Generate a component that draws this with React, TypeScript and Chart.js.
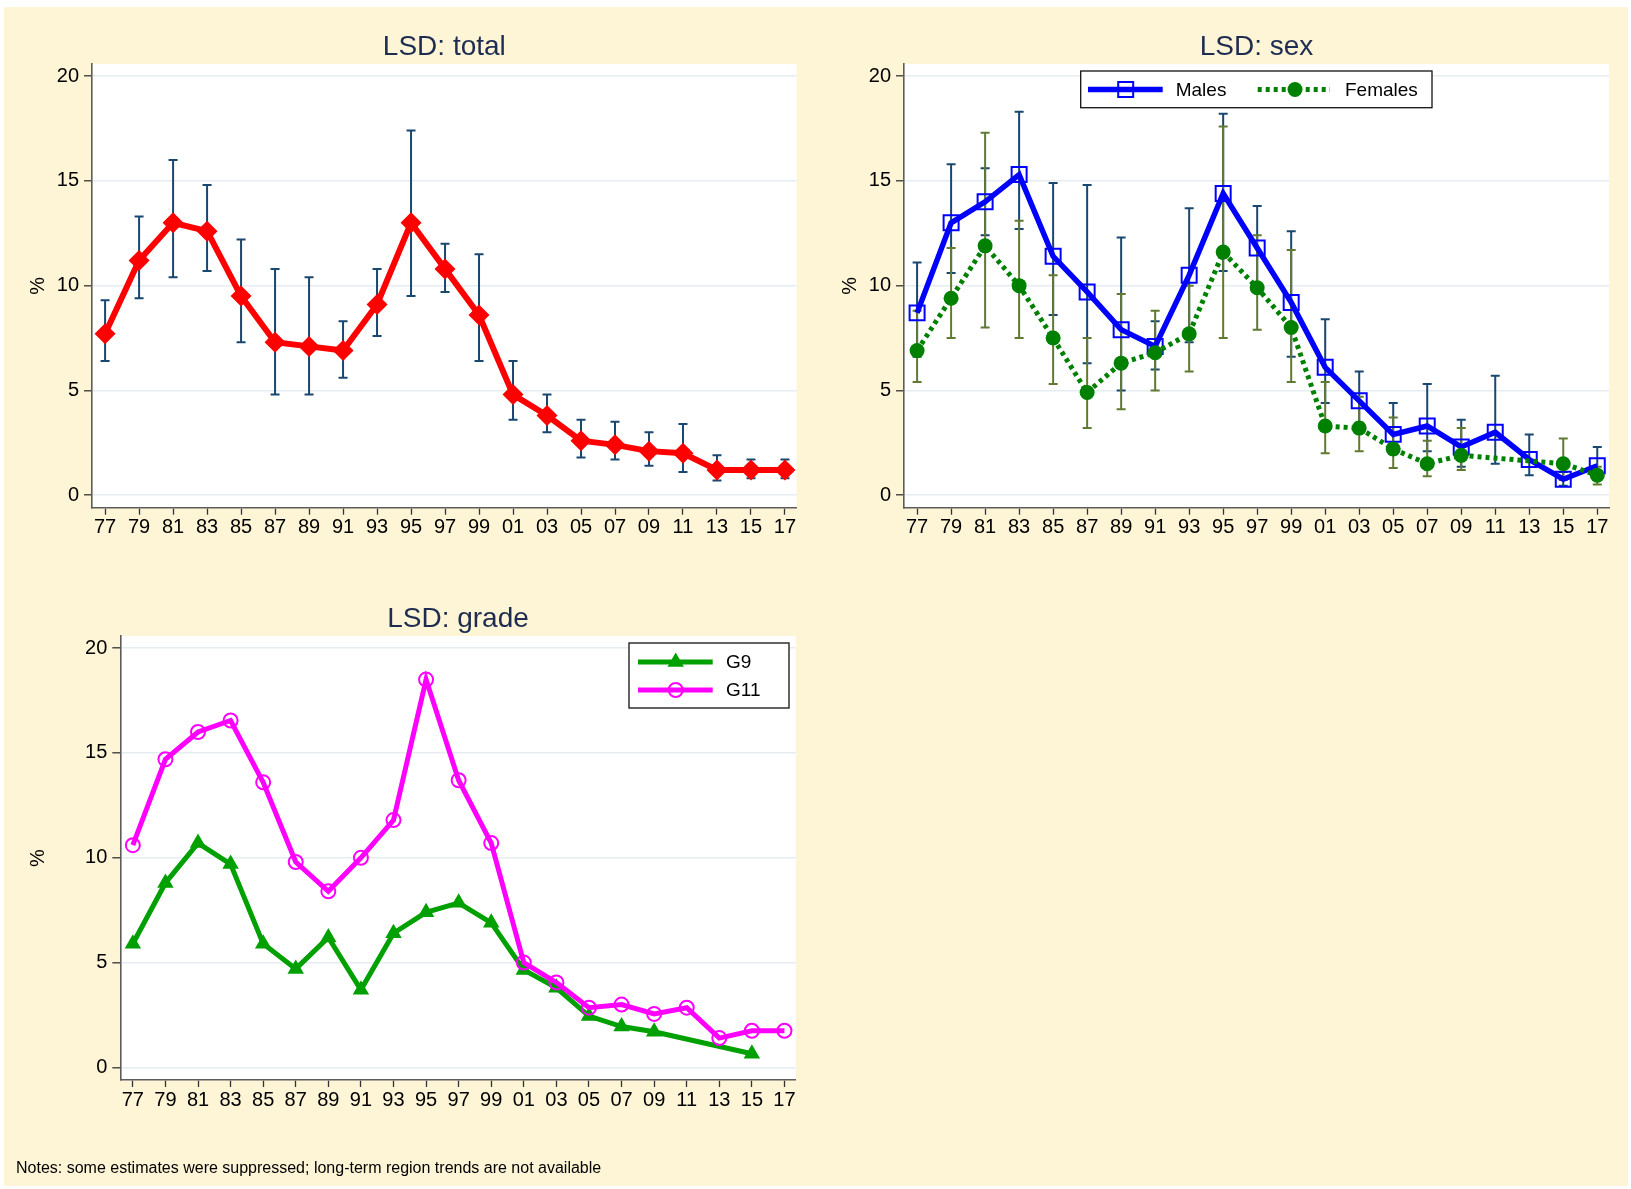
import React, { useEffect, useRef } from 'react';
import { Chart, registerables } from 'chart.js';
import { drawPoint } from 'chart.js/helpers';

Chart.register(...registerables);

// ---------------- data ----------------
const years = [1977, 1979, 1981, 1983, 1985, 1987, 1989, 1991, 1993, 1995, 1997, 1999, 2001, 2003, 2005, 2007, 2009, 2011, 2013, 2015, 2017];
const yTicks = [0, 5, 10, 15, 20];

const totalValues = [7.7, 11.2, 13.0, 12.6, 9.5, 7.3, 7.1, 6.9, 9.1, 13.0, 10.8, 8.6, 4.8, 3.8, 2.6, 2.4, 2.1, 2.0, 1.2, 1.2, 1.2];
const totalLower = [6.4, 9.4, 10.4, 10.7, 7.3, 4.8, 4.8, 5.6, 7.6, 9.5, 9.7, 6.4, 3.6, 3.0, 1.8, 1.7, 1.4, 1.1, 0.7, 0.8, 0.8];
const totalUpper = [9.3, 13.3, 16.0, 14.8, 12.2, 10.8, 10.4, 8.3, 10.8, 17.4, 12.0, 11.5, 6.4, 4.8, 3.6, 3.5, 3.0, 3.4, 1.9, 1.7, 1.7];

const maleValues = [8.7, 13.0, 14.0, 15.3, 11.4, 9.7, 7.9, 7.1, 10.5, 14.4, 11.8, 9.2, 6.1, 4.5, 2.9, 3.3, 2.3, 3.0, 1.7, 0.76, 1.4];
const maleLower = [6.6, 10.6, 12.4, 12.7, 8.6, 6.3, 5.0, 6.0, 7.3, 10.7, 9.8, 6.6, 4.4, 3.45, 1.95, 2.1, 1.35, 1.5, 0.95, 0.45, 0.75];
const maleUpper = [11.1, 15.8, 15.6, 18.3, 14.9, 14.8, 12.3, 8.3, 13.7, 18.2, 13.8, 12.6, 8.4, 5.9, 4.4, 5.3, 3.6, 5.7, 2.9, 1.1, 2.3];

const femaleValues = [6.9, 9.4, 11.9, 10.0, 7.5, 4.9, 6.3, 6.8, 7.7, 11.6, 9.9, 8.0, 3.3, 3.2, 2.2, 1.5, 1.9, null, null, 1.5, 0.95];
const femaleLower = [5.4, 7.5, 8.0, 7.5, 5.3, 3.2, 4.1, 5.0, 5.9, 7.5, 7.9, 5.4, 2.0, 2.1, 1.3, 0.9, 1.2, null, null, 0.72, 0.51];
const femaleUpper = [8.8, 11.8, 17.3, 13.1, 10.5, 7.5, 9.6, 8.8, 10.0, 17.6, 12.4, 11.7, 5.4, 4.7, 3.7, 2.6, 3.2, null, null, 2.7, 1.35];

const g9Values = [5.9, 8.8, 10.7, 9.7, 5.9, 4.7, 6.2, 3.7, 6.4, 7.4, 7.85, 6.9, 4.65, 3.8, 2.45, 1.95, 1.7, null, null, 0.65, null];
const g11Values = [10.6, 14.7, 16.0, 16.55, 13.6, 9.8, 8.4, 10.0, 11.8, 18.5, 13.7, 10.7, 5.0, 4.05, 2.85, 3.0, 2.55, 2.85, 1.4, 1.75, 1.75];

const titleTotal = 'LSD: total';
const titleSex = 'LSD: sex';
const titleGrade = 'LSD: grade';
const yAxisTitle = '%';
const noteText = 'Notes: some estimates were suppressed; long-term region trends are not available';

// ---------------- styles ----------------
const FONT = '"Liberation Sans", Arial, Helvetica, sans-serif';
const BG = '#fef5d6';
const GRID = '#e5edf1';
const AXIS = '#5c5c5c';
const TITLE_COLOR = '#1d2c50';
const TICK_SIZE = 20;

const toPoints = (vals: (number | null)[]) => years.map((x, i) => ({ x, y: vals[i] }));

// plot region background
const plotBgPlugin = {
  id: 'plotBg',
  beforeDraw(chart: any) {
    const { ctx, chartArea } = chart;
    ctx.save();
    ctx.fillStyle = '#ffffff';
    ctx.fillRect(chartArea.left, chartArea.top, chartArea.right - chartArea.left, chartArea.bottom - chartArea.top);
    ctx.restore();
  },
};

// panel title centered over plot region
const panelTitlePlugin = {
  id: 'panelTitle',
  afterDraw(chart: any, _args: any, opts: any) {
    if (!opts || !opts.text) return;
    const { ctx, chartArea } = chart;
    ctx.save();
    ctx.font = `${opts.size}px ${FONT}`;
    ctx.fillStyle = opts.color;
    ctx.textAlign = 'center';
    ctx.textBaseline = 'middle';
    ctx.fillText(opts.text, (chartArea.left + chartArea.right) / 2, opts.y);
    ctx.restore();
  },
};

// confidence interval caps
const errorBarsPlugin = {
  id: 'errorBars',
  beforeDatasetsDraw(chart: any, _args: any, opts: any) {
    if (!opts || !opts.bars) return;
    const { ctx } = chart;
    const xs = chart.scales.x;
    const ys = chart.scales.y;
    ctx.save();
    for (const b of opts.bars) {
      ctx.strokeStyle = b.color;
      ctx.lineWidth = b.width;
      ctx.lineCap = 'butt';
      for (let i = 0; i < years.length; i++) {
        const lo = b.lower[i];
        const hi = b.upper[i];
        if (lo == null || hi == null) continue;
        const x = xs.getPixelForValue(years[i]);
        const y1 = ys.getPixelForValue(lo);
        const y2 = ys.getPixelForValue(hi);
        ctx.beginPath();
        ctx.moveTo(x, y1);
        ctx.lineTo(x, y2);
        ctx.moveTo(x - b.cap, y1);
        ctx.lineTo(x + b.cap, y1);
        ctx.moveTo(x - b.cap, y2);
        ctx.lineTo(x + b.cap, y2);
        ctx.stroke();
      }
    }
    ctx.restore();
  },
};

// legend with line + marker samples
const lineLegendPlugin = {
  id: 'lineLegend',
  afterDatasetsDraw(chart: any, _args: any, opts: any) {
    if (!opts || !opts.box) return;
    const { ctx } = chart;
    const [x1, y1, x2, y2] = opts.box;
    ctx.save();
    ctx.fillStyle = '#ffffff';
    ctx.fillRect(x1, y1, x2 - x1, y2 - y1);
    ctx.strokeStyle = '#111111';
    ctx.lineWidth = 1.3;
    ctx.strokeRect(x1, y1, x2 - x1, y2 - y1);
    for (const it of opts.items) {
      const ds = chart.data.datasets[it.datasetIndex];
      ctx.save();
      ctx.strokeStyle = ds.borderColor;
      ctx.lineWidth = ds.borderWidth;
      ctx.setLineDash(ds.borderDash || []);
      ctx.beginPath();
      ctx.moveTo(it.x1, it.y);
      ctx.lineTo(it.x2, it.y);
      ctx.stroke();
      ctx.restore();
      ctx.save();
      ctx.fillStyle = ds.pointBackgroundColor;
      ctx.strokeStyle = ds.pointBorderColor;
      ctx.lineWidth = ds.pointBorderWidth;
      drawPoint(ctx, { pointStyle: ds.pointStyle, radius: ds.pointRadius, borderWidth: ds.pointBorderWidth, rotation: 0 } as any, it.mx, it.y);
      ctx.restore();
      ctx.fillStyle = '#000000';
      ctx.font = `19px ${FONT}`;
      ctx.textAlign = 'left';
      ctx.textBaseline = 'middle';
      ctx.fillText(ds.label, it.tx, it.y + 1);
    }
    ctx.restore();
  },
};

type Area = { left: number; top: number; right: number; bottom: number };

function makeOptions(width: number, height: number, area: Area, title: string, titleY: number, yTitleX: number, plugins: any) {
  const xAxisH = 40;
  return {
    responsive: false,
    animation: false as const,
    events: [],
    layout: {
      padding: { left: 0, top: area.top, right: width - area.right, bottom: height - area.bottom - xAxisH },
    },
    plugins: {
      legend: { display: false },
      tooltip: { enabled: false },
      title: { display: false },
      panelTitle: { text: title, y: titleY, size: 28, color: TITLE_COLOR },
      ...plugins,
    },
    scales: {
      x: {
        type: 'linear',
        min: 1976.23,
        max: 2017.69,
        afterBuildTicks: (s: any) => {
          s.ticks = years.map((v) => ({ value: v }));
        },
        afterFit: (s: any) => {
          s.height = xAxisH;
        },
        grid: { drawOnChartArea: false, drawTicks: true, tickLength: 7, tickColor: '#333333', tickWidth: 1.3 },
        border: { display: true, color: AXIS, width: 1.6 },
        ticks: {
          autoSkip: false,
          maxRotation: 0,
          padding: 1,
          color: '#000000',
          font: { family: FONT, size: TICK_SIZE },
          callback: (v: any) => String(Math.round(Number(v)) % 100).padStart(2, '0'),
        },
      },
      y: {
        type: 'linear',
        min: -0.6,
        max: 20.58,
        afterBuildTicks: (s: any) => {
          s.ticks = yTicks.map((v) => ({ value: v }));
        },
        afterFit: (s: any) => {
          s.width = area.left;
        },
        grid: { color: GRID, lineWidth: 1.6, drawTicks: true, tickLength: 8, tickColor: '#333333', tickWidth: 1.3 },
        border: { display: true, color: AXIS, width: 1.6 },
        title: {
          display: true,
          text: yAxisTitle,
          color: '#000000',
          font: { family: FONT, size: TICK_SIZE },
          padding: { top: yTitleX - TICK_SIZE * 0.6, bottom: 0 },
        },
        ticks: {
          padding: 5,
          color: '#000000',
          font: { family: FONT, size: TICK_SIZE },
          callback: (v: any) => String(v),
        },
      },
    },
  } as any;
}

const chartPlugins = [plotBgPlugin, panelTitlePlugin, errorBarsPlugin, lineLegendPlugin];

export default function App() {
  const ref1 = useRef<HTMLCanvasElement | null>(null);
  const ref2 = useRef<HTMLCanvasElement | null>(null);
  const ref3 = useRef<HTMLCanvasElement | null>(null);

  useEffect(() => {
    const charts: Chart[] = [];

    // Panel 1: total
    charts.push(
      new Chart(ref1.current as HTMLCanvasElement, {
        type: 'line',
        data: {
          datasets: [
            {
              label: 'total',
              data: toPoints(totalValues),
              borderColor: '#ff0000',
              borderWidth: 6,
              pointStyle: 'rectRot',
              pointRadius: 10.5,
              pointBackgroundColor: '#ff0000',
              pointBorderColor: '#ff0000',
              pointBorderWidth: 0,
              tension: 0,
            },
          ],
        } as any,
        options: makeOptions(815, 560, { left: 92, top: 64, right: 796.7, bottom: 507.7 }, titleTotal, 47.5, 38.5, {
          errorBars: { bars: [{ lower: totalLower, upper: totalUpper, color: '#1a476f', width: 2, cap: 4.5 }] },
        }),
        plugins: chartPlugins as any,
      })
    );

    // Panel 2: sex
    charts.push(
      new Chart(ref2.current as HTMLCanvasElement, {
        type: 'line',
        data: {
          datasets: [
            {
              label: 'Males',
              data: toPoints(maleValues),
              order: 1,
              borderColor: '#0000ff',
              borderWidth: 5.5,
              pointStyle: 'rect',
              pointRadius: 10.6,
              pointBackgroundColor: 'rgba(0,0,0,0)',
              pointBorderColor: '#0000ff',
              pointBorderWidth: 2,
              tension: 0,
              spanGaps: true,
            },
            {
              label: 'Females',
              data: toPoints(femaleValues),
              order: 0,
              borderColor: '#008000',
              borderWidth: 5,
              borderDash: [4, 4],
              pointStyle: 'circle',
              pointRadius: 7.5,
              pointBackgroundColor: '#008000',
              pointBorderColor: '#008000',
              pointBorderWidth: 0,
              tension: 0,
              spanGaps: true,
            },
          ],
        } as any,
        options: makeOptions(816, 560, { left: 89, top: 64, right: 794, bottom: 507.7 }, titleSex, 47.5, 35, {
          errorBars: {
            bars: [
              { lower: maleLower, upper: maleUpper, color: '#1a476f', width: 2, cap: 4.5 },
              { lower: femaleLower, upper: femaleUpper, color: '#617a33', width: 2, cap: 4.5 },
            ],
          },
          lineLegend: {
            box: [265.7, 71, 617, 107.7],
            items: [
              { datasetIndex: 0, x1: 273, x2: 347.7, mx: 310.7, tx: 360.7, y: 89.5 },
              { datasetIndex: 1, x1: 442.7, x2: 515, mx: 480, tx: 530, y: 89.5 },
            ],
          },
        }),
        plugins: chartPlugins as any,
      })
    );

    // Panel 3: grade
    charts.push(
      new Chart(ref3.current as HTMLCanvasElement, {
        type: 'line',
        data: {
          datasets: [
            {
              label: 'G9',
              data: toPoints(g9Values),
              order: 1,
              borderColor: '#00a000',
              borderWidth: 5,
              pointStyle: 'triangle',
              pointRadius: 9.5,
              pointBackgroundColor: '#00a000',
              pointBorderColor: '#00a000',
              pointBorderWidth: 0,
              tension: 0,
              spanGaps: true,
            },
            {
              label: 'G11',
              data: toPoints(g11Values),
              order: 0,
              borderColor: '#ff00ff',
              borderWidth: 5,
              pointStyle: 'circle',
              pointRadius: 7,
              pointBackgroundColor: 'rgba(0,0,0,0)',
              pointBorderColor: '#ff00ff',
              pointBorderWidth: 2,
              tension: 0,
              spanGaps: true,
            },
          ],
        } as any,
        options: makeOptions(815, 629, { left: 120.3, top: 76, right: 795.7, bottom: 520 }, titleGrade, 58.8, 38.5, {
          lineLegend: {
            box: [629, 83, 789, 148],
            items: [
              { datasetIndex: 0, x1: 638, x2: 712.7, mx: 675.7, tx: 726, y: 102 },
              { datasetIndex: 1, x1: 638, x2: 712.7, mx: 675.7, tx: 726, y: 130 },
            ],
          },
        }),
        plugins: chartPlugins as any,
      })
    );

    return () => {
      charts.forEach((c) => c.destroy());
    };
  }, []);

  return (
    <div style={{ position: 'absolute', left: 0, top: 0, width: 1631, height: 1189, background: '#ffffff', overflow: 'hidden' }}>
      <div style={{ position: 'absolute', left: 4, top: 7, width: 1624, height: 1179, background: BG }} />
      <canvas ref={ref1} width={815} height={560} style={{ position: 'absolute', left: 0, top: 0, width: 815, height: 560 }} />
      <canvas ref={ref2} width={816} height={560} style={{ position: 'absolute', left: 815, top: 0, width: 816, height: 560 }} />
      <canvas ref={ref3} width={815} height={629} style={{ position: 'absolute', left: 0, top: 560, width: 815, height: 629 }} />
      <div
        style={{
          position: 'absolute',
          left: 16,
          top: 1158,
          fontFamily: FONT,
          fontSize: 16,
          lineHeight: '19px',
          color: '#000000',
          whiteSpace: 'nowrap',
        }}
      >
        {noteText}
      </div>
    </div>
  );
}
